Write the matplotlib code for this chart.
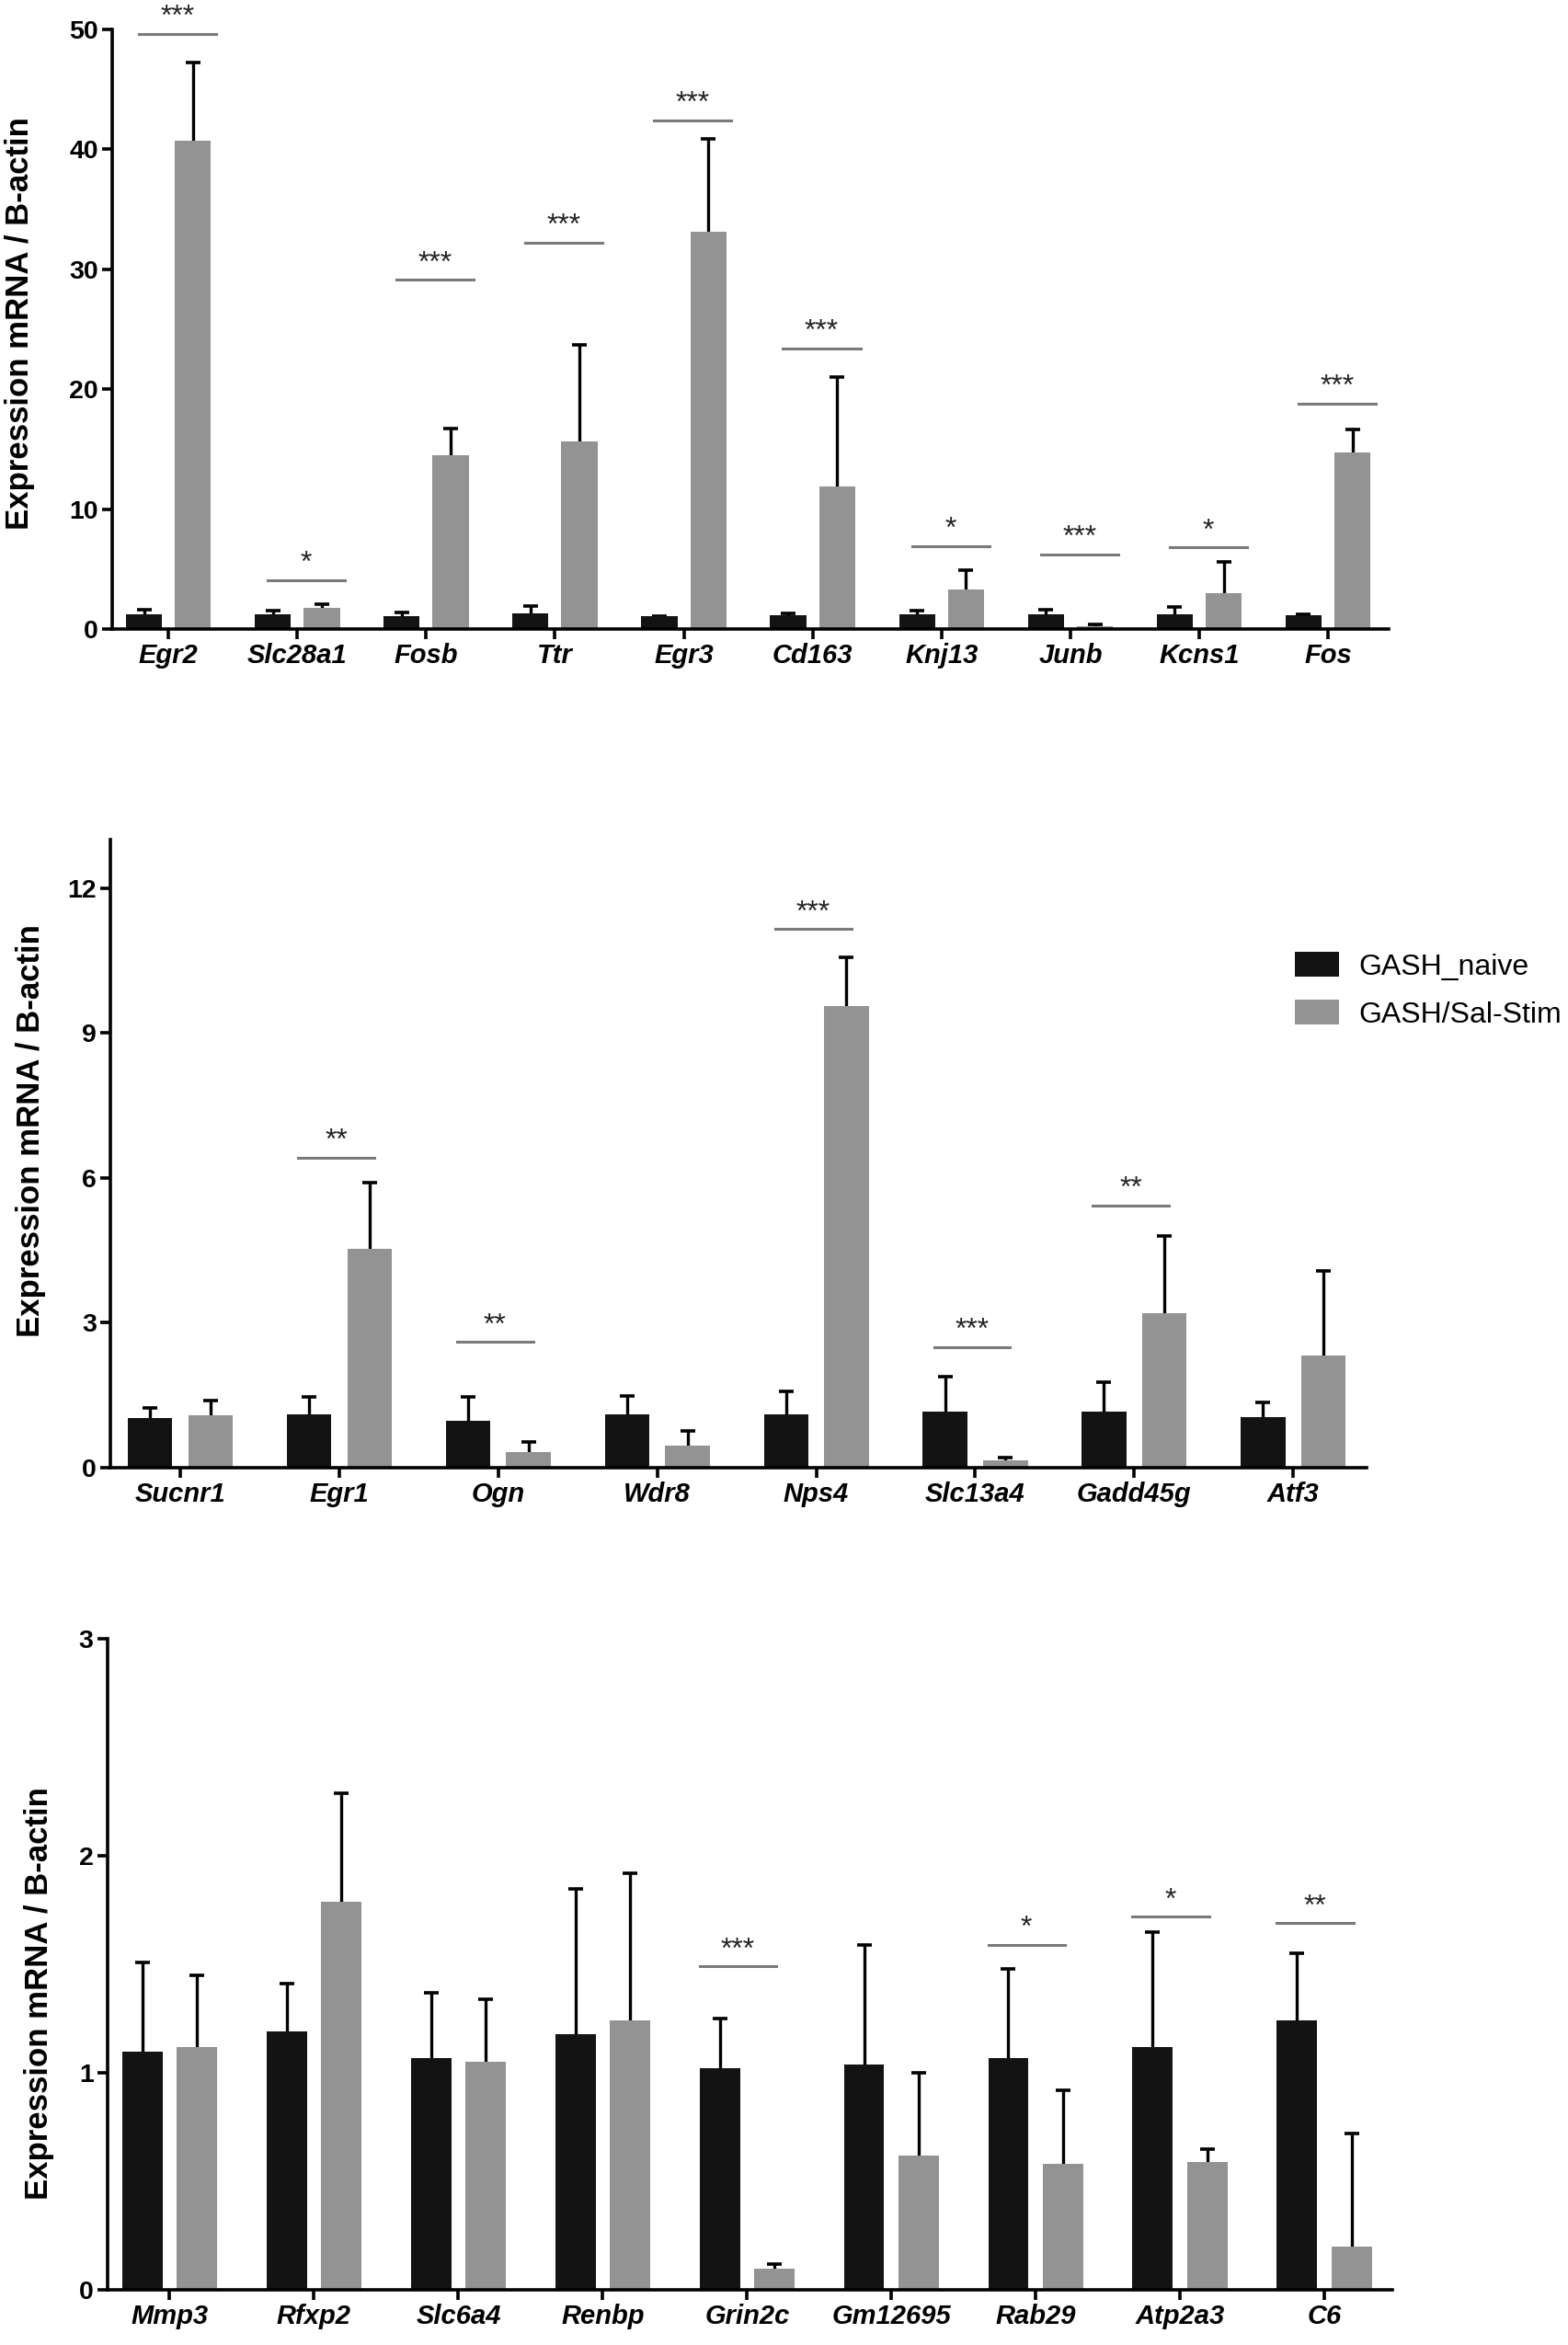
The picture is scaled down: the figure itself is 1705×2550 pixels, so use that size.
import numpy as np
import matplotlib
matplotlib.use('Agg')
import matplotlib.pyplot as plt
from matplotlib.patches import Patch

plt.rcParams['font.family'] = ['Liberation Sans', 'DejaVu Sans']

# panel 1 data
genes1 = ['Egr2', 'Slc28a1', 'Fosb', 'Ttr', 'Egr3', 'Cd163', 'Knj13', 'Junb', 'Kcns1', 'Fos']
naive1 = [1.2, 1.2, 1.1, 1.3, 1.05, 1.15, 1.2, 1.2, 1.25, 1.15]
naive1_err = [0.4, 0.3, 0.3, 0.6, 0.05, 0.15, 0.3, 0.4, 0.55, 0.05]
stim1 = [40.7, 1.76, 14.5, 15.6, 33.1, 11.9, 3.3, 0.2, 3.0, 14.7]
stim1_err = [6.5, 0.34, 2.2, 8.1, 7.8, 9.1, 1.6, 0.15, 2.6, 1.9]
sig1 = ['***', '*', '***', '***', '***', '***', '*', '***', '*', '***']
sig1_y = [49.6, 4.05, 29.1, 32.2, 42.4, 23.4, 6.9, 6.2, 6.8, 18.8]

# panel 2 data
genes2 = ['Sucnr1', 'Egr1', 'Ogn', 'Wdr8', 'Nps4', 'Slc13a4', 'Gadd45g', 'Atf3']
naive2 = [1.03, 1.1, 0.98, 1.1, 1.1, 1.17, 1.17, 1.04]
naive2_err = [0.2, 0.37, 0.49, 0.39, 0.49, 0.71, 0.61, 0.32]
stim2 = [1.08, 4.53, 0.32, 0.45, 9.55, 0.15, 3.19, 2.33]
stim2_err = [0.31, 1.37, 0.21, 0.31, 1.02, 0.06, 1.61, 1.74]
sig2 = ['', '**', '**', '', '***', '***', '**', '']
sig2_y = [None, 6.42, 2.6, None, 11.15, 2.5, 5.43, None]

# panel 3 data
genes3 = ['Mmp3', 'Rfxp2', 'Slc6a4', 'Renbp', 'Grin2c', 'Gm12695', 'Rab29', 'Atp2a3', 'C6']
naive3 = [1.1, 1.19, 1.07, 1.18, 1.02, 1.04, 1.07, 1.12, 1.24]
naive3_err = [0.41, 0.22, 0.3, 0.67, 0.23, 0.55, 0.41, 0.53, 0.31]
stim3 = [1.12, 1.79, 1.05, 1.24, 0.097, 0.62, 0.58, 0.59, 0.2]
stim3_err = [0.33, 0.5, 0.29, 0.68, 0.02, 0.38, 0.34, 0.06, 0.52]
sig3 = ['', '', '', '', '***', '', '*', '*', '**']
sig3_y = [None, None, None, None, 1.49, None, 1.59, 1.72, 1.69]

labels = ['GASH_naive', 'GASH/Sal-Stim']
black = '#131313'
gray = '#939393'
sigcolor = '#7a7a7a'

fig = plt.figure(figsize=(17.05, 25.5), dpi=100)


def draw_panel(rect, genes, naive, naive_err, stim, stim_err, sig, sig_y,
               ylim, yticks, xlim, line_span):
    ax = fig.add_axes(rect)
    x = np.arange(len(genes))
    w = 0.28
    off = 0.19
    for vals, errs, pos, col in [(naive, naive_err, x - off, black),
                                 (stim, stim_err, x + off, gray)]:
        ax.bar(pos, vals, width=w, color=col, zorder=2)
        vals = np.array(vals)
        eb = ax.errorbar(pos, vals, yerr=[np.zeros(len(vals)), errs], fmt='none',
                         ecolor='black', elinewidth=2.4, capsize=6, capthick=2.6,
                         zorder=1)
        # hide the lower caps, only the upper half of each error bar is shown
        for cl in eb[1]:
            if np.allclose(cl.get_ydata(), vals):
                cl.set_visible(False)
    for i, (s, yv) in enumerate(zip(sig, sig_y)):
        if not s:
            continue
        x0, x1 = i + line_span[0], i + line_span[1]
        ax.plot([x0, x1], [yv, yv], color=sigcolor, lw=2.2, clip_on=False)
        ax.annotate(s, ((x0 + x1) / 2, yv), xytext=(0, 7), textcoords='offset points',
                    ha='center', va='baseline', fontsize=23, color='#222222',
                    annotation_clip=False)
    ax.set_xlim(*xlim)
    ax.set_ylim(*ylim)
    ax.set_yticks(yticks)
    ax.set_yticklabels([str(t) for t in yticks], fontsize=20.5, fontweight='bold')
    ax.set_xticks(x)
    ax.set_xticklabels(genes, fontsize=21, fontweight='bold', style='italic')
    for sp in ['top', 'right']:
        ax.spines[sp].set_visible(False)
    for sp in ['left', 'bottom']:
        ax.spines[sp].set_linewidth(2.6)
    ax.tick_params(axis='both', width=2.6, length=8, pad=3)
    return ax


ax1 = draw_panel([0.0716, 0.7318, 0.814, 0.2557], genes1, naive1, naive1_err,
                 stim1, stim1_err, sig1, sig1_y, (0, 50), [0, 10, 20, 30, 40, 50],
                 (-0.436, 9.47), (-0.23, 0.37))
ax2 = draw_panel([0.0704, 0.3741, 0.801, 0.2678], genes2, naive2, naive2_err,
                 stim2, stim2_err, sig2, sig2_y, (0, 13), [0, 3, 6, 9, 12],
                 (-0.44, 7.46), (-0.26, 0.22))
ax3 = draw_panel([0.0686, 0.0235, 0.8194, 0.2776], genes3, naive3, naive3_err,
                 stim3, stim3_err, sig3, sig3_y, (0, 3), [0, 1, 2, 3],
                 (-0.43, 8.47), (-0.33, 0.2))

# y labels
for xc, yc in [(22, 0.862), (34, 0.518), (43, 0.150)]:
    fig.text(xc / 1705, yc, 'Expression mRNA / B-actin', rotation=90,
             ha='center', va='center', fontsize=25, fontweight='bold')

handles = [Patch(facecolor=black), Patch(facecolor=gray)]
ax2.legend(handles, labels, loc='upper left', bbox_to_anchor=(0.826, 0.594),
           bbox_transform=fig.transFigure, frameon=False, fontsize=23,
           handlelength=1.5, handleheight=0.9, handletextpad=0.65,
           labelspacing=0.65, borderpad=0, borderaxespad=0)

fig.savefig('out.png', dpi=100, facecolor='white')
